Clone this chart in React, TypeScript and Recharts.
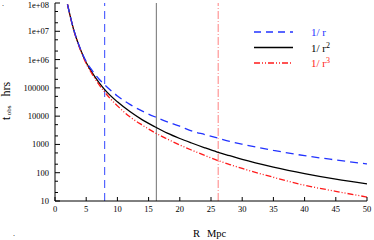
import React from 'react';
import { LineChart, Line, XAxis, YAxis, ReferenceLine, Legend } from 'recharts';

// R in Mpc
const radius = [2, 3, 4, 5, 6, 7, 8, 10, 12, 14, 16, 18, 20, 22, 24, 26, 28, 30, 35, 40, 45, 50];
// t_obs (hrs) for each profile
const tInvR = [8.9e7, 1.15e7, 2.6e6, 8.5e5, 4.0e5, 2.1e5, 1.26e5, 5.2e4, 2.6e4, 1.5e4, 9.5e3, 6.3e3, 4.4e3, 2.95e3, 2.24e3, 1.7e3, 1.29e3, 1.02e3, 617, 400, 282, 204];
const tInvR2 = [8.9e7, 1.12e7, 2.5e6, 7.9e5, 3.3e5, 1.6e5, 8.5e4, 3.2e4, 1.45e4, 7.4e3, 4.2e3, 2.5e3, 1.62e3, 1.1e3, 760, 537, 398, 295, 158, 93, 59, 40];
const tInvR3 = [8.9e7, 1.1e7, 2.4e6, 7.2e5, 2.95e5, 1.35e5, 6.9e4, 2.3e4, 9.5e3, 4.8e3, 2.6e3, 1.55e3, 955, 617, 407, 275, 195, 141, 69, 36, 22, 13.8];

// vertical marker positions (R Mpc) for 1/r, 1/r^2, 1/r^3
const markerR = [7.95, 16.25, 26.15];

const xTicks = [0, 5, 10, 15, 20, 25, 30, 35, 40, 45, 50];
const yMajorTicks = [10, 100, 1000, 10000, 100000, 1e6, 1e7, 1e8];
const yMajorLabels = ['10', '100', '1000', '10000', '100000', '1e+06', '1e+07', '1e+08'];
const yMinorTicks = [20, 50, 200, 500, 2000, 5000, 2e4, 5e4, 2e5, 5e5, 2e6, 5e6, 2e7, 5e7];

const BLUE = '#2233ff';
const RED = '#ff1a1a';
const SERIF = '"Liberation Serif", "DejaVu Serif", serif';

const data = radius.map((r, i) => ({ r, a: tInvR[i], b: tInvR2[i], c: tInvR3[i] }));
const yAllTicks = [...yMajorTicks, ...yMinorTicks].sort((p, q) => p - q);

const isMajor = (v: number) => yMajorTicks.indexOf(v) >= 0;

const LeftTick = (props: any) => {
  const { x, y, payload } = props;
  const major = isMajor(payload.value);
  const label = major ? yMajorLabels[yMajorTicks.indexOf(payload.value)] : '';
  return (
    <g>
      <line x1={x} x2={x + (major ? 5 : 3)} y1={y} y2={y} stroke="#000" strokeWidth={1} />
      {major && (
        <text x={x - 6} y={Math.max(y + 3, 7.5)} textAnchor="end" fontSize={8.5} fontFamily={SERIF} fill="#000">
          {label}
        </text>
      )}
    </g>
  );
};

const RightTick = (props: any) => {
  const { x, y, payload } = props;
  const major = isMajor(payload.value);
  return <line x1={x} x2={x - (major ? 5 : 3)} y1={y} y2={y} stroke="#000" strokeWidth={1} />;
};

const BottomTick = (props: any) => {
  const { x, y, payload } = props;
  return (
    <g>
      <line x1={x} x2={x} y1={y} y2={y - 4} stroke="#000" strokeWidth={1} />
      <text x={x} y={y + 11} textAnchor="middle" fontSize={8.5} fontFamily={SERIF} fill="#000">
        {payload.value}
      </text>
    </g>
  );
};

const TopTick = (props: any) => {
  const { x, y } = props;
  return <line x1={x} x2={x} y1={y} y2={y + 4} stroke="#000" strokeWidth={1} />;
};

const legendItems = [
  { name: '1/ r', sup: '', color: BLUE, textColor: BLUE, dash: '7 5' },
  { name: '1/ r', sup: '2', color: '#000', textColor: '#000', dash: undefined },
  { name: '1/ r', sup: '3', color: RED, textColor: RED, dash: '6 2 1 2 1 2' },
];

const renderLegend = () => (
  <svg width={110} height={52}>
    {legendItems.map((it, i) => {
      const yy = 10 + i * 15.5;
      return (
        <g key={i}>
          <line x1={4} x2={43} y1={yy} y2={yy} stroke={it.color} strokeWidth={1.3} strokeDasharray={it.dash} />
          <text x={61} y={yy + 4} fontSize={11} fontFamily={SERIF} fill={it.textColor}>
            {it.name}
            {it.sup && (
              <tspan fontSize={8} dy={-4}>
                {it.sup}
              </tspan>
            )}
          </text>
        </g>
      );
    })}
  </svg>
);

export default function App() {
  return (
    <div style={{ position: 'absolute', left: 0, top: 0, width: 374, height: 240, background: '#fff' }}>
      <LineChart width={374} height={240} data={data} margin={{ top: 3, right: 7, bottom: 9, left: 0 }}>
        <XAxis
          dataKey="r"
          type="number"
          domain={[0, 50]}
          ticks={xTicks}
          interval={0}
          height={30}
          tickSize={0}
          tickMargin={0}
          tickLine={false}
          tick={<BottomTick />}
          axisLine={{ stroke: '#000' }}
        />
        <XAxis
          xAxisId="top"
          orientation="top"
          dataKey="r"
          type="number"
          domain={[0, 50]}
          ticks={xTicks}
          interval={0}
          height={0}
          tickSize={0}
          tickMargin={0}
          tickLine={false}
          tick={<TopTick />}
          axisLine={{ stroke: '#777' }}
        />
        <YAxis
          type="number"
          scale="log"
          domain={[10, 1e8]}
          allowDataOverflow
          ticks={yAllTicks}
          interval={0}
          width={55}
          tickSize={0}
          tickMargin={0}
          tickLine={false}
          tick={<LeftTick />}
          axisLine={{ stroke: '#000' }}
        />
        <YAxis
          yAxisId="right"
          orientation="right"
          type="number"
          scale="log"
          domain={[10, 1e8]}
          allowDataOverflow
          ticks={yAllTicks}
          interval={0}
          width={0}
          tickSize={0}
          tickMargin={0}
          tickLine={false}
          tick={<RightTick />}
          axisLine={{ stroke: '#333' }}
        />
        <ReferenceLine x={markerR[0]} stroke="#5566ff" strokeWidth={1.2} strokeDasharray="8 5" />
        <ReferenceLine x={markerR[1]} stroke="#888" strokeWidth={1.2} />
        <ReferenceLine x={markerR[2]} stroke="#ff8080" strokeWidth={1} strokeDasharray="8 2 1 2" />
        <Line
          dataKey="b"
          type="monotone"
          stroke="#000"
          strokeWidth={1.3}
          dot={false}
          isAnimationActive={false}
        />
        <Line
          dataKey="c"
          type="monotone"
          stroke={RED}
          strokeWidth={1.3}
          strokeDasharray="6 2 1 2 1 2"
          dot={false}
          isAnimationActive={false}
        />
        <Line
          dataKey="a"
          type="monotone"
          stroke={BLUE}
          strokeWidth={1.3}
          strokeDasharray="8 5"
          dot={false}
          isAnimationActive={false}
        />
        <Legend
          layout="horizontal"
          verticalAlign="middle"
          align="center"
          content={renderLegend}
          wrapperStyle={{ position: 'absolute', left: 250, top: 22, width: 110, height: 52 }}
        />
      </LineChart>
      <svg
        width={374}
        height={240}
        style={{ position: 'absolute', left: 0, top: 0, pointerEvents: 'none' }}
      >
        <text transform="translate(10,120) rotate(-90)" fontFamily={SERIF} fill="#000">
          <tspan fontSize={12}>t</tspan>
          <tspan fontSize={7} dx={1.5} dy={1}>obs</tspan>
          <tspan fontSize={12} dx={9} dy={-1}>hrs</tspan>
        </text>
        <text x={193} y={237} fontSize={10.5} fontFamily={SERIF} fill="#000">
          R<tspan dx={7}>Mpc</tspan>
        </text>
        <text x={13} y={236} fontSize={8} fontFamily={SERIF} fill="#000">.</text>
        <text x={2} y={6} fontSize={8} fontFamily={SERIF} fill="#000">.</text>
      </svg>
    </div>
  );
}
